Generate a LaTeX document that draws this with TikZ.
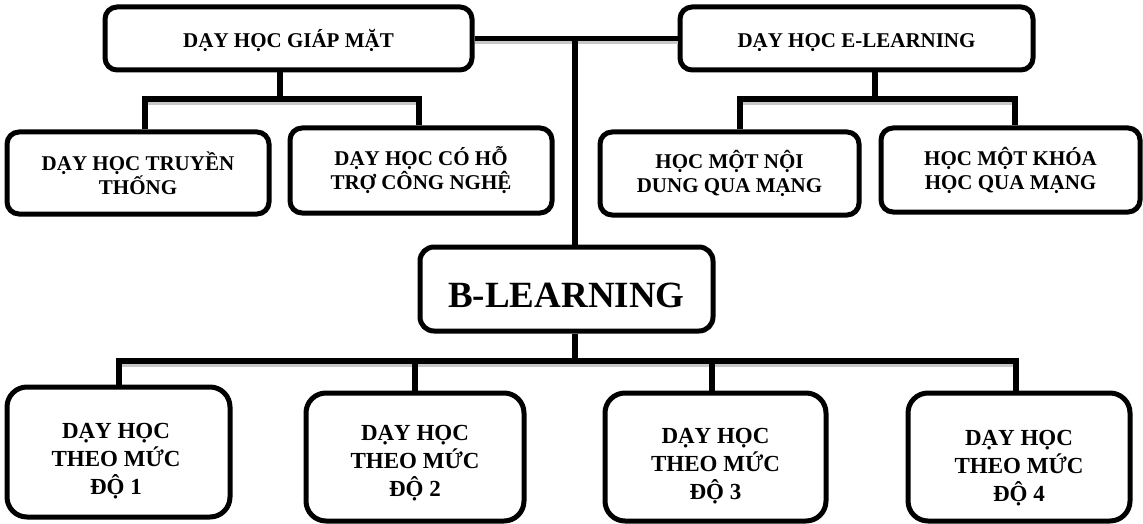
\documentclass[tikz,border=0pt]{standalone}
\usepackage{fontspec}
\setmainfont{Liberation Serif}
\begin{document}
\begin{tikzpicture}[x=1pt,y=1pt,
  box/.style={draw=black,line width=5pt,rounded corners=12pt,align=center,inner sep=0pt},
  topbox/.style={box,font=\fontsize{21}{24}\selectfont\bfseries},
  headbox/.style={topbox,text height=19pt,text depth=1pt},
  bigbox/.style={box,font=\fontsize{37}{40}\selectfont\bfseries,text height=36pt,text depth=0pt},
  lowbox/.style={draw=black,line width=5pt,rounded corners=20pt,inner sep=0pt},
  lowtext/.style={align=center,inner sep=0pt,font=\fontsize{23}{28}\selectfont\bfseries},
  conn/.style={draw=black,line width=5.5pt,line join=miter},
  shade/.style={draw=black!22,line width=3pt}]
\useasboundingbox (0,0) rectangle (1143,-524);
% nodes
\node[headbox,minimum width=367pt,minimum height=63pt] (gm) at (288.5,-38.5) {DẠY HỌC GIÁP MẶT};
\node[headbox,minimum width=353pt,minimum height=63pt] (el) at (856.5,-38.5) {DẠY HỌC E-LEARNING};
\node[topbox,minimum width=262pt,minimum height=82pt] (tt) at (138,-173) {DẠY HỌC TRUYỀN\\THỐNG};
\node[topbox,minimum width=262pt,minimum height=85pt] (ch) at (421,-170.5) {DẠY HỌC CÓ HỖ\\TRỢ CÔNG NGHỆ};
\node[topbox,minimum width=259pt,minimum height=83pt] (nd) at (729.5,-173.5) {HỌC MỘT NỘI\\DUNG QUA MẠNG};
\node[topbox,minimum width=259pt,minimum height=84pt] (kh) at (1010.5,-170) {HỌC MỘT KHÓA\\HỌC QUA MẠNG};
\node[bigbox,rounded corners=14pt,minimum width=293pt,minimum height=84pt] (bl) at (566.5,-289) {B-LEARNING};
\node[lowbox,minimum width=223pt,minimum height=130pt] (b1) at (118.5,-452) {};
\node[lowbox,minimum width=218pt,minimum height=128pt] (b2) at (415,-457) {};
\node[lowbox,minimum width=221pt,minimum height=128pt] (b3) at (715.5,-457) {};
\node[lowbox,minimum width=222pt,minimum height=128pt] (b4) at (1019,-457) {};
\node[lowtext] (t1) at (116,-461.5) {DẠY HỌC\\THEO MỨC\\ĐỘ 1};
\node[lowtext] (t2) at (415,-463.5) {DẠY HỌC\\THEO MỨC\\ĐỘ 2};
\node[lowtext] (t3) at (715.5,-466.5) {DẠY HỌC\\THEO MỨC\\ĐỘ 3};
\node[lowtext] (t4) at (1019,-468.5) {DẠY HỌC\\THEO MỨC\\ĐỘ 4};
% junction coordinates
\coordinate (m) at (575,-38.5);
\coordinate (ga) at (280,-99);
\coordinate (gl) at (145,-99);
\coordinate (gr) at (419,-99);
\coordinate (ea) at (875,-99);
\coordinate (el1) at (740,-99);
\coordinate (er) at (1015,-99);
\coordinate (ba) at (575,-361);
\coordinate (bl1) at (119,-361);
\coordinate (bq2) at (415,-361);
\coordinate (bq3) at (712,-361);
\coordinate (br) at (1016,-361);
% shadows
\draw[shade] ([yshift=-4.5pt]gm.east) -- ([yshift=-4.5pt]el.west);
\draw[shade] ([yshift=-4.5pt]gl) -- ([yshift=-4.5pt]gr);
\draw[shade] ([yshift=-4.5pt]el1) -- ([yshift=-4.5pt]er);
\draw[shade] ([yshift=-4.5pt]bl1) -- ([yshift=-4.5pt]br);
% connectors
\draw[conn] (gm.east) -- (el.west);
\draw[conn] (m) -- (bl.north -| m);
\draw[conn] (gm.south -| ga) -- (ga);
\draw[conn] (tt.north -| gl) -- (gl) -- (gr) -- (ch.north -| gr);
\draw[conn] (el.south -| ea) -- (ea);
\draw[conn] (nd.north -| el1) -- (el1) -- (er) -- (kh.north -| er);
\draw[conn] (bl.south -| ba) -- (ba);
\draw[conn] (b1.north -| bl1) -- (bl1) -- (br) -- (b4.north -| br);
\draw[conn] (bq2) -- (b2.north -| bq2);
\draw[conn] (bq3) -- (b3.north -| bq3);
\end{tikzpicture}
\end{document}
